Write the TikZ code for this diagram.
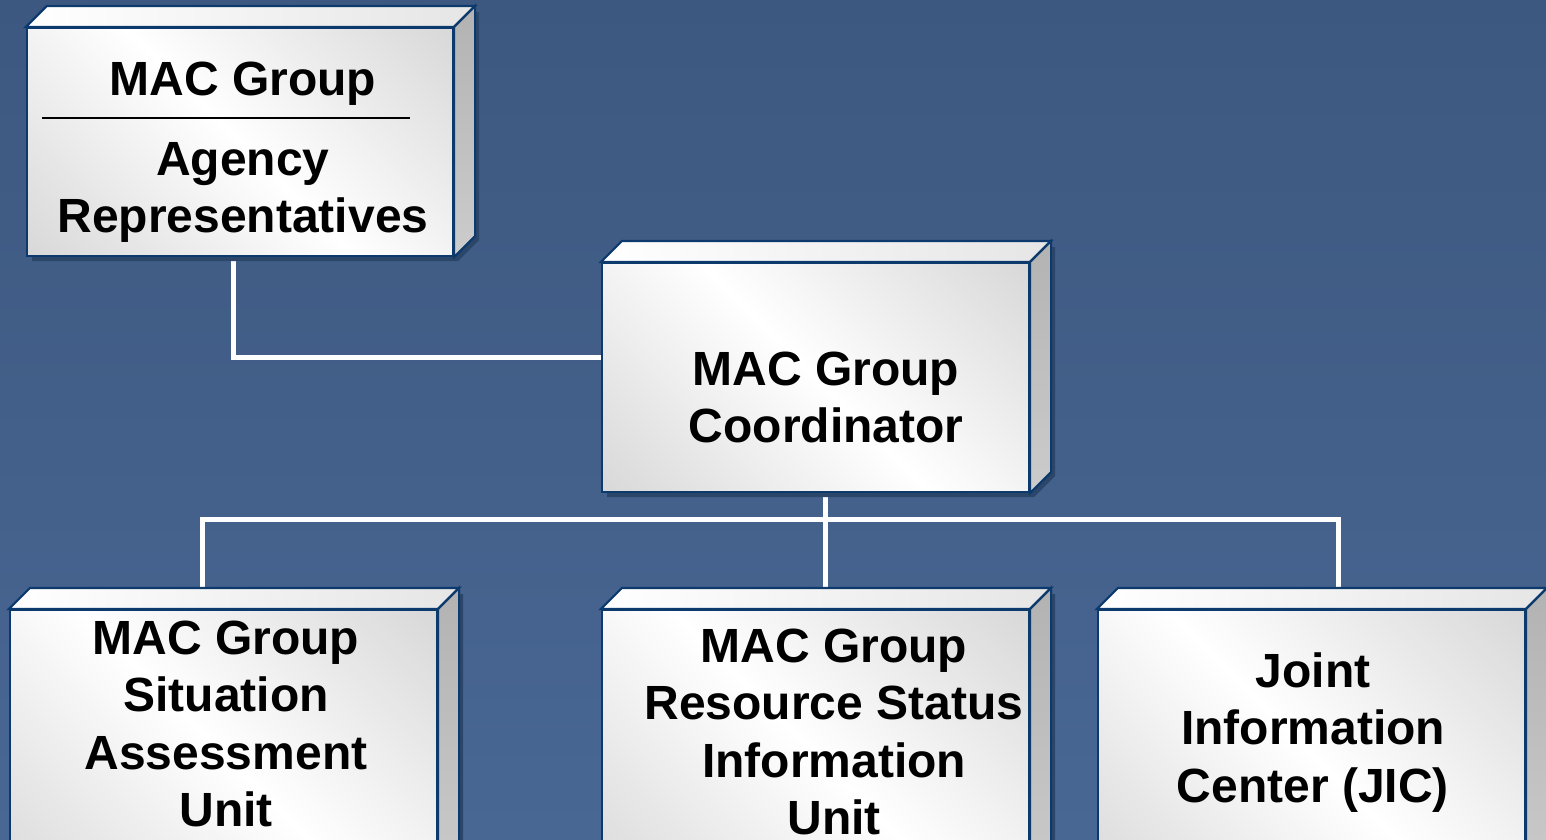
\documentclass[tikz,border=0pt]{standalone}
\usepackage{fontspec}
\setmainfont{Liberation Sans}
\usetikzlibrary{calc}
\definecolor{bgtop}{RGB}{61,88,128}
\definecolor{bgbot}{RGB}{72,103,147}
\definecolor{edge}{RGB}{12,58,108}
\definecolor{shad}{RGB}{44,70,106}
\definecolor{fgray}{RGB}{200,200,200}
\pgfdeclareverticalshading{facesh}{100bp}{color(0bp)=(fgray); color(50bp)=(white); color(100bp)=(fgray)}
\pgfdeclarelayer{bg}
\pgfdeclarelayer{conn}
\pgfsetlayers{bg,conn,main}
\tikzset{
  faceshade/.style={shading=facesh, shading angle=-45},
  face/.style={draw=edge, line width=2.2pt, inner sep=0pt},
  topface/.style={draw=edge, line width=2.2pt, left color=white, right color=gray!20},
  sideface/.style={draw=edge, line width=2.2pt, top color=gray!60, bottom color=gray!40},
  boxtext/.style={inner sep=0pt, align=center, font=\fontsize{48}{57.5}\selectfont\bfseries},
  conn/.style={draw=white, line width=5pt}
}
% #1 name, #2 x1, #3 y1, #4 x2, #5 y2 of front face
\newcommand\threedbox[5]{%
  \fill[shad] ({#2+5},{#3+5}) -- ({#2+26},{#3-16}) -- ({#4+26},{#3-16}) -- ({#4+26},{#5-16}) -- ({#4+5},{#5+5}) -- ({#2+5},{#5+5}) -- cycle;
  \shade[faceshade] (#2,#3) rectangle (#4,#5);
  \node[face, minimum width={#4-#2}, minimum height={#5-#3}] (#1) at ({(#2+#4)/2},{(#3+#5)/2}) {};
  \shade[topface] (#1.north west) -- ++(21,-21) -- ([shift={(21,-21)}]#1.north east) -- (#1.north east) -- cycle;
  \shade[sideface] (#1.north east) -- ++(21,-21) -- ([shift={(21,-21)}]#1.south east) -- (#1.south east) -- cycle;
}
\begin{document}
\begin{tikzpicture}[x=1pt,y=-1pt]
\begin{pgfonlayer}{bg}
\shade[top color=bgtop, bottom color=bgbot] (0,0) rectangle (1546,839);
\end{pgfonlayer}
\useasboundingbox (0,0) rectangle (1546,839);
\clip (0,0) rectangle (1546,839);

\threedbox{rep}{27}{28}{453}{256}
\threedbox{coord}{602}{263}{1029}{492}
\threedbox{sit}{10}{610}{437}{900}
\threedbox{res}{602}{610}{1029}{900}
\threedbox{jic}{1098}{610}{1525}{900}

\node[boxtext] (repA) at (243,83.5) {\strut MAC Group};
\draw[line width=2pt] (42,118) -- (410,118);
\node[boxtext] (repB) at (243,192.25) {\strut Agency\\\strut Representatives};
\node[boxtext] (coordT) at (826,402.25) {\strut MAC Group\\\strut Coordinator};
\node[boxtext] (sitT) at (226,728.75) {\strut MAC Group\\\strut Situation\\\strut Assessment\\\strut Unit};
\node[boxtext] (resT) at (834,736.75) {\strut MAC Group\\\strut Resource Status\\\strut Information\\\strut Unit};
\node[boxtext] (jicT) at (1313,733) {\strut Joint\\\strut Information\\\strut Center (JIC)};

\begin{pgfonlayer}{conn}
\coordinate (bus) at (825,519);
\draw[conn] ([xshift=-7pt]rep.south) |- ([yshift=20.5pt]coord.west);
\draw[conn] (coord.south -| bus) -- (bus);
\draw[conn] (sit.north -| 202,0) |- (bus);
\draw[conn] (jic.north -| 1338,0) |- (bus);
\draw[conn] (res.north -| bus) -- (bus);
\end{pgfonlayer}
\end{tikzpicture}
\end{document}
